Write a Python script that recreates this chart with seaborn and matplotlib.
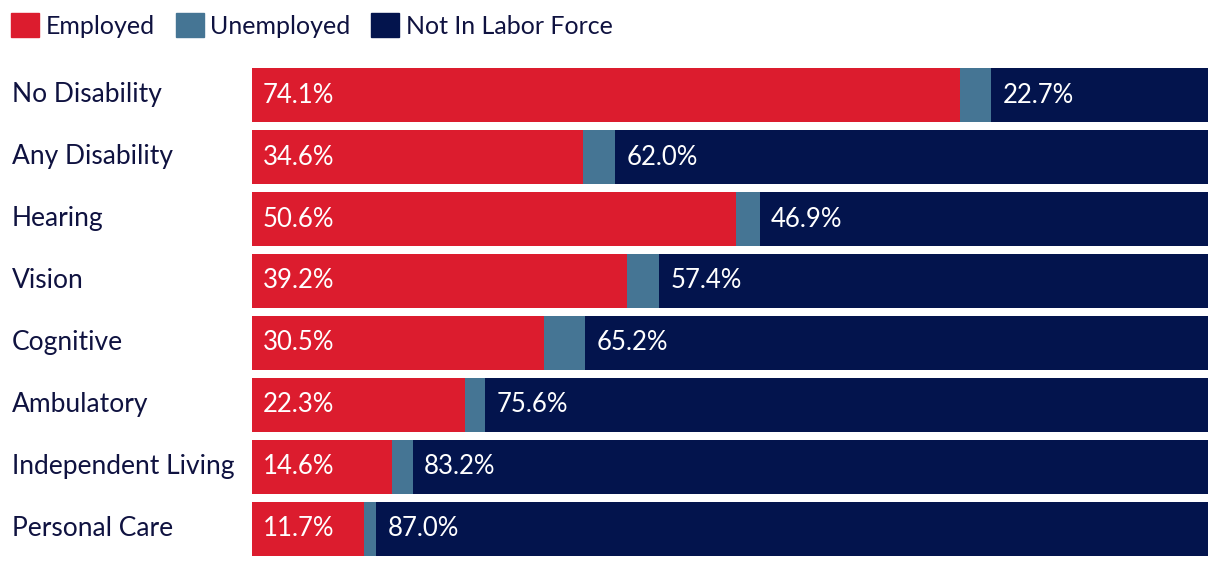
import matplotlib
matplotlib.use("Agg")
import matplotlib.pyplot as plt
import matplotlib.patches as mpatches
import matplotlib.transforms as mtransforms
import seaborn as sns
import pandas as pd

categories = ["No Disability", "Any Disability", "Hearing", "Vision", "Cognitive",
              "Ambulatory", "Independent Living", "Personal Care"]
employed = [74.1, 34.6, 50.6, 39.2, 30.5, 22.3, 14.6, 11.7]
unemployed = [3.2, 3.4, 2.5, 3.4, 4.3, 2.1, 2.2, 1.3]
not_in_lf = [22.7, 62.0, 46.9, 57.4, 65.2, 75.6, 83.2, 87.0]

RED = "#DC1C2E"
BLUE = "#457594"
NAVY = "#03144D"
TEXT = "#0F1240"

sns.set_style("white")
plt.rcParams['font.family'] = ['Lato', 'DejaVu Sans']

df = pd.DataFrame({"cat": categories, "emp": employed, "unemp": unemployed, "nilf": not_in_lf})
df["emp_unemp"] = df["emp"] + df["unemp"]
df["total"] = df["emp_unemp"] + df["nilf"]

fig = plt.figure(figsize=(12.2, 5.68), dpi=100)
ax = fig.add_axes([252 / 1220, 1 - 560 / 568, (1208 - 252) / 1220, (560 - 64) / 568])

# overlay cumulative bars, widest first
for col, c in [("total", NAVY), ("emp_unemp", BLUE), ("emp", RED)]:
    sns.barplot(data=df, x=col, y="cat", color=c, width=0.87, saturation=1,
                linewidth=0, edgecolor="none", ax=ax)

for i, row in df.iterrows():
    ax.text(1.1, i, f"{row['emp']:.1f}%", va="center", ha="left",
            color="white", fontsize=18.5)
    ax.text(row["emp_unemp"] + 1.2, i, f"{row['nilf']:.1f}%", va="center", ha="left",
            color="white", fontsize=18.5)

ax.set_xlim(0, 100)
ax.set_ylim(7.5, -0.5)
ax.set_xlabel("")
ax.set_ylabel("")
ax.set_xticks([])
sns.despine(ax=ax, left=True, bottom=True)
ax.tick_params(axis="y", length=0, pad=173, labelsize=19, labelcolor=TEXT)
shift_up = mtransforms.ScaledTranslation(0, 3 / 100, fig.dpi_scale_trans)
for lab in ax.get_yticklabels():
    lab.set_horizontalalignment("left")
    lab.set_transform(lab.get_transform() + shift_up)

handles = [mpatches.Patch(color=RED, label="Employed"),
           mpatches.Patch(color=BLUE, label="Unemployed"),
           mpatches.Patch(color=NAVY, label="Not In Labor Force")]
leg = fig.legend(handles=handles, loc="upper left", bbox_to_anchor=(11 / 1220, 1 - 13 / 568),
                 ncol=3, frameon=False, fontsize=18, handlelength=1.12, handleheight=1.12,
                 handletextpad=0.25, columnspacing=0.85, borderaxespad=0, borderpad=0)
for t in leg.get_texts():
    t.set_color(TEXT)

fig.savefig("out.png", dpi=100)
